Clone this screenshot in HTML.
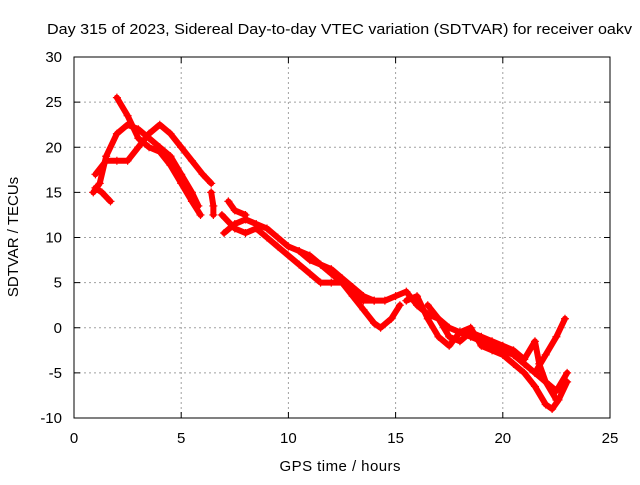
<!DOCTYPE html>
<html><head><meta charset="utf-8"><style>
body{margin:0;background:#fff}
svg{font-family:"Liberation Sans",sans-serif;font-size:15px}
</style></head><body>
<svg width="640" height="480">
<g id="grid"></g>
<g id="axes"></g>
<g id="marks"></g>
<text x="47" y="34" textLength="585" lengthAdjust="spacingAndGlyphs">Day 315 of 2023, Sidereal Day-to-day VTEC variation (SDTVAR) for receiver oakv</text>
<text x="340" y="471" text-anchor="middle" textLength="121">GPS time / hours</text>
<text transform="translate(18,237) rotate(-90)" text-anchor="middle">SDTVAR / TECUs</text>
</svg>
<script>
const xTicks=[0,5,10,15,20,25];
const yTicks=[-10,-5,0,5,10,15,20,25,30];
const tracks=[
[[0.9,15],[1.2,16],[1.5,19],[2,21.5],[2.5,22.5],[3,22],[3.5,21],[4,20],[4.5,19],[5,17],[5.5,15],[5.8,13.5]],
[[2,25.5],[2.5,23.5],[3,21],[3.5,20],[4,19.5],[4.5,18],[5,16],[5.5,14],[5.9,12.5]],
[[1,17],[1.5,18.5],[2,18.5],[2.5,18.5],[3,20],[3.5,21.5],[4,22.5],[4.5,21.5],[5,20],[5.5,18.5],[6,17],[6.4,16]],
[[1,15.5],[1.3,15],[1.7,14]],
[[6.4,15],[6.5,13.5],[6.5,12.5]],
[[7.2,14],[7.5,13],[8,12.5]],
[[7,10.5],[7.5,11.5],[8,12],[8.5,11.5],[9,11],[9.5,10],[10,9],[10.5,8.5],[11,7.5],[11.5,7],[12,6],[12.5,5],[13,4],[13.5,3],[14,3],[14.5,3],[15,3.5],[15.5,4],[16,2.5],[16.5,1.5],[17,1],[17.5,0],[18,-0.5],[18.5,-1],[19,-1.5],[19.5,-2],[20,-2.5],[20.5,-3],[21,-4],[21.5,-5],[22,-6],[22.5,-8]],
[[6.9,12.5],[7.5,11],[8,10.5],[8.5,11],[9,10],[9.5,9],[10,8],[10.5,7],[11,6],[11.5,5],[12,5],[12.5,5],[13,3.5],[13.5,2],[14,0.5],[14.3,0],[14.8,1],[15.2,2.5]],
[[10.5,8.5],[11,8],[11.5,7],[12,6.5],[12.5,5.5],[13,4.5],[13.5,3.5],[14,3]],
[[15.5,3],[16,3.5],[16.5,1],[17,-1],[17.5,-2],[18,-0.5],[18.5,0],[19,-2],[19.5,-2.5],[20,-3],[20.5,-4],[21,-5],[21.5,-6.5],[22,-8.5],[22.3,-9],[22.6,-8],[23,-6]],
[[16.5,2.5],[17,1],[17.5,-1],[18,-1.5],[18.5,-0.5],[19,-1],[19.5,-1.5],[20,-2],[20.5,-2.5],[21,-3.5],[21.5,-1.5],[21.7,-4],[22,-6],[22.5,-7],[23,-5]],
[[21.5,-5],[22,-3],[22.5,-1],[22.9,1]]
];
const X=v=>74+v*(536/25), Y=v=>418-(v+10)*(361/40);
const NS="http://www.w3.org/2000/svg";
const mk=(p,t,a)=>{const e=document.createElementNS(NS,t);for(const k in a)e.setAttribute(k,a[k]);p.appendChild(e);return e;};
const grid=document.getElementById('grid'),axes=document.getElementById('axes'),marks=document.getElementById('marks');
mk(axes,'rect',{x:74,y:57,width:536,height:361,fill:'none',stroke:'#000','stroke-width':1});
xTicks.forEach(t=>{const x=X(t);
 if(t>0&&t<25){const l=mk(grid,'line',{x1:x,x2:x,y1:57,y2:418,stroke:'#a0a0a0','stroke-dasharray':'2,3'});
 }
 const tx=mk(axes,'text',{x:x,y:443,'text-anchor':'middle'});tx.textContent=t;
 
 mk(axes,'line',{x1:x,x2:x,y1:418,y2:412,stroke:'#000'});mk(axes,'line',{x1:x,x2:x,y1:57,y2:63,stroke:'#000'});});
yTicks.forEach(t=>{const y=Y(t);
 if(t>-10&&t<30){const l=mk(grid,'line',{x1:74,x2:610,y1:y,y2:y,stroke:'#a0a0a0','stroke-dasharray':'2,3'});
 }
 const tx=mk(axes,'text',{x:62,y:y+5,'text-anchor':'end'});tx.textContent=t;
 
 mk(axes,'line',{x1:74,x2:80,y1:y,y2:y,stroke:'#000'});mk(axes,'line',{x1:610,x2:604,y1:y,y2:y,stroke:'#000'});});
tracks.forEach((tr,i)=>{
 const p=mk(marks,'polyline',{points:tr.map(d=>X(d[0])+','+Y(d[1])).join(' '),fill:'none',stroke:'#f00','stroke-width':6,'stroke-linejoin':'round','stroke-linecap':'round'});
 
 
 tr.forEach(d=>{const x=X(d[0]),y=Y(d[1]);
  const m=mk(marks,'path',{d:`M${x-4},${y}h8M${x},${y-4}v8`,stroke:'#f00','stroke-width':1.2});
  
  });
});
</script>
</body></html>
